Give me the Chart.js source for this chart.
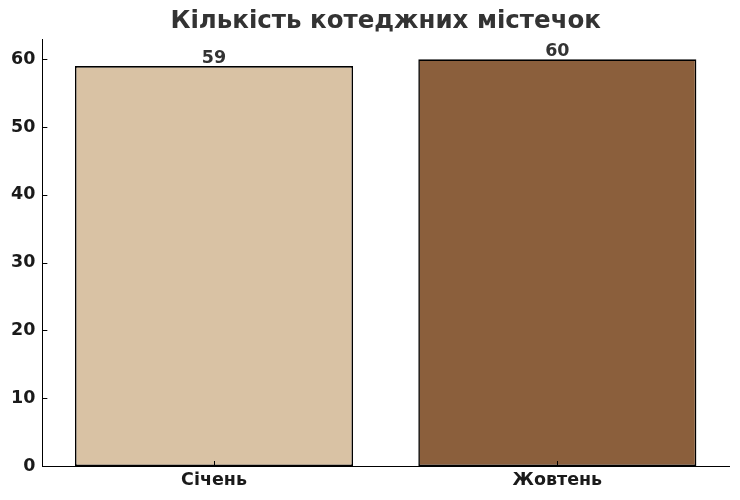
<!DOCTYPE html>
<html><head><meta charset="utf-8">
<script src="https://cdn.jsdelivr.net/npm/chart.js@4"></script>
<style>html,body{margin:0;padding:0;background:#fff}#wrap{width:740px;height:500px}</style>
</head><body><div id="wrap"><canvas id="c" width="740" height="500"></canvas></div>
<script>
const categories = ["Січень", "Жовтень"];
const values = [59, 60];
const barColors = ["#D9C2A4", "#8B5F3C"];
const yTicks = [0, 10, 20, 30, 40, 50, 60];
const titleText = "Кількість котеджних містечок";

const FONT = "'DejaVu Sans', sans-serif";

const inwardTicks = {
  id: 'inwardTicks',
  afterDraw(chart) {
    const ctx = chart.ctx, x = chart.scales.x, y = chart.scales.y;
    ctx.save();
    ctx.strokeStyle = '#000'; ctx.lineWidth = 1;
    yTicks.forEach(v => {
      const py = Math.round(y.getPixelForValue(v)) + 0.5;
      ctx.beginPath(); ctx.moveTo(x.left, py); ctx.lineTo(x.left + 5, py); ctx.stroke();
    });
    categories.forEach((c, i) => {
      const px = Math.round(x.getPixelForValue(i)) + 0.5;
      ctx.beginPath(); ctx.moveTo(px, y.bottom); ctx.lineTo(px, y.bottom - 5); ctx.stroke();
    });
    const meta = chart.getDatasetMeta(0);
    ctx.fillStyle = '#333';
    ctx.font = "bold 17.5px " + FONT;
    ctx.textAlign = 'center'; ctx.textBaseline = 'bottom';
    meta.data.forEach((bar, i) => {
      ctx.fillText(String(values[i]), bar.x, bar.y + 1);
    });
    const ca = chart.chartArea;
    ctx.font = "bold 24.5px " + FONT;
    ctx.textBaseline = 'middle';
    ctx.fillText(titleText, (ca.left + ca.right) / 2, 22);
    ctx.restore();
  }
};

new Chart(document.getElementById('c'), {
  type: 'bar',
  data: {
    labels: categories,
    datasets: [{
      data: values,
      backgroundColor: barColors,
      borderColor: '#000',
      borderWidth: 1.6,
      borderSkipped: false,
      barPercentage: 0.81,
      categoryPercentage: 1.0
    }]
  },
  options: {
    responsive: false,
    animation: false,
    devicePixelRatio: 1,
    layout: { padding: { left: 4, right: 11, top: 39, bottom: 5 } },
    plugins: {
      legend: { display: false },
      tooltip: { enabled: false },
      title: { display: false }
    },
    scales: {
      x: {
        offset: true,
        grid: { display: false, drawTicks: false },
        border: { display: true, color: '#000', width: 1 },
        ticks: { color: '#1a1a1a', font: { family: FONT, size: 17.5, weight: 'bold' }, padding: 4 }
      },
      y: {
        min: 0, max: 63,
        grid: { display: false, drawTicks: false },
        border: { display: true, color: '#000', width: 1 },
        ticks: { stepSize: 10, includeBounds: false, color: '#1a1a1a', font: { family: FONT, size: 17.5, weight: 'bold' }, padding: 7 }
      }
    }
  },
  plugins: [inwardTicks]
});
</script>
</body></html>
